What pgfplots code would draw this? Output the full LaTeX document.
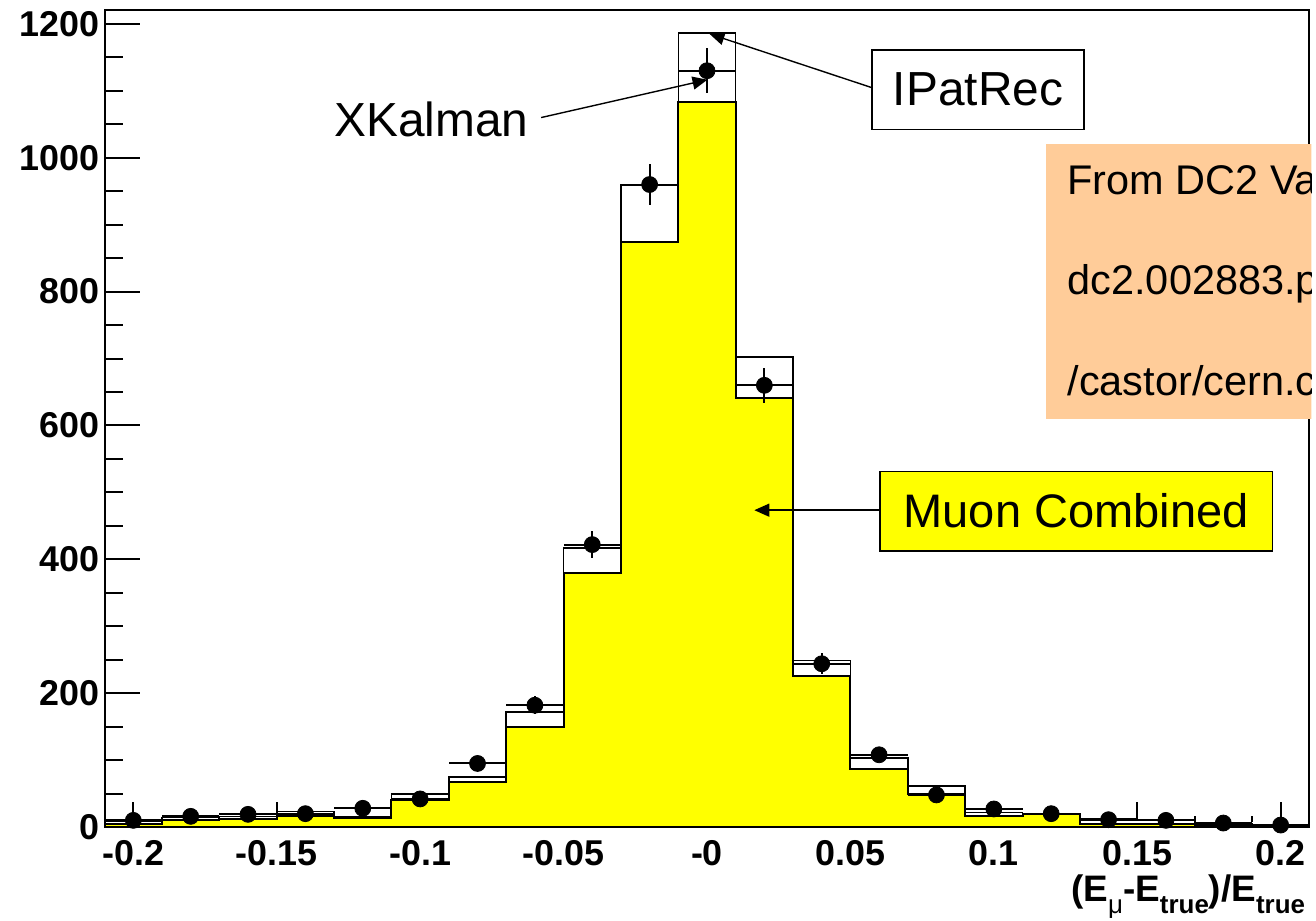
\documentclass[border=0pt]{standalone}
\usepackage{pgfplots}
\usepackage{pgfplotstable}
\pgfplotsset{compat=1.18}
\usepackage{fontspec}
\setmainfont{Liberation Sans}
\usetikzlibrary{arrows.meta}

\definecolor{peach}{RGB}{255,204,153}
\definecolor{histyellow}{RGB}{255,255,0}

% Histogram contents, one row per bin low edge (last row closes the step line)
\pgfplotstableread{
lo     muon  ipat
-0.21  4     9
-0.19  10    14
-0.17  12    16
-0.15  16    23
-0.13  13    15
-0.11  40    49
-0.09  67    75
-0.07  149   172
-0.05  380   417
-0.03  874   959
-0.01  1084  1186
0.01   641   702
0.03   226   249
0.05   87    103
0.07   50    61
0.09   17    22
0.11   19    20
0.13   5     12
0.15   5     11
0.17   2     5
0.19   1     2
0.21   1     2
}\histo

% XKalman points at bin centres with their errors
\pgfplotstableread{
x      xk    ep    em
-0.20  10    28    10
-0.18  16    4     4
-0.16  19    4.4   4.4
-0.14  20    4.5   4.5
-0.12  28    5.3   5.3
-0.10  42    6.5   6.5
-0.08  95    9.7   9.7
-0.06  182   13.5  13.5
-0.04  422   20.5  20.5
-0.02  960   31    31
0.00   1130  33.6  33.6
0.02   660   25.7  25.7
0.04   244   15.6  15.6
0.06   108   10.4  10.4
0.08   48    6.9   6.9
0.10   27    5.2   5.2
0.12   20    4.5   4.5
0.14   11    3.3   3.3
0.16   10    3.2   3.2
0.18   6     2.4   2.4
0.20   3     34    3
}\xkal

\newcommand{\sub}[1]{\raisebox{-6pt}{\fontsize{13}{13}\selectfont #1}}

\begin{document}
\begin{tikzpicture}
% page frame in pixel-like units: origin of the axis box at (105,830)
\begin{scope}[x=0.5pt, y=-0.5pt, shift={(-52.5pt,415pt)}]
  \useasboundingbox (0,0) rectangle (1316,924);
\end{scope}

\begin{axis}[
  at={(0,0)}, anchor=south west,
  scale only axis, width=604.5pt, height=410pt,
  xmin=-0.21, xmax=0.21, ymin=0, ymax=1220.8,
  clip=false,
  axis line style={line width=1pt},
  xtick={-0.2,-0.15,-0.1,-0.05,0,0.05,0.1,0.15,0.2},
  xticklabels={-0.2,-0.15,-0.1,-0.05,-0,0.05,0.1,0.15,0.2},
  ytick={0,200,400,600,800,1000,1200},
  yticklabels={0,200,400,600,800,1000,1200},
  minor y tick num=3,
  tick align=inside,
  xtick pos=left, ytick pos=left,
  major tick length=17.5pt, minor tick length=9pt,
  tick style={black, line width=1pt},
  xtick style={draw=none},
  ticklabel style={font=\bfseries\fontsize{18}{18}\selectfont, inner sep=0pt},
  xticklabel style={anchor=north, yshift=-6.5pt},
  yticklabel style={anchor=east, xshift=-2.5pt},
  xlabel={(E\sub{\mdseries μ}-E\sub{true})/E\sub{true}},
  xlabel style={at={(axis description cs:0.9967,0)}, anchor=base east,
    yshift=-37.5pt, inner sep=0pt, font=\bfseries\fontsize{18.5}{19}\selectfont},
]
  % Muon Combined
  \addplot[const plot, fill=histyellow, draw=black, line width=1pt]
    table[x=lo, y=muon] {\histo} \closedcycle;
  % IPatRec
  \addplot[const plot, draw=black, line width=0.8pt]
    table[x=lo, y=ipat] {\histo};
  % XKalman
  \addplot[only marks, mark=*, mark size=4pt, black,
    error bars/.cd, x dir=both, x fixed=0.01, y dir=both, y explicit,
    error mark=none, error bar style={line width=1pt, black}]
    table[x=x, y=xk, y error plus=ep, y error minus=em] {\xkal};
  % stray error segments at bin edges
  \addplot[black, line width=1pt] coordinates {(-0.15,22) (-0.15,37)};
  \addplot[black, line width=1pt] coordinates {(0.15,10) (0.15,37)};
  \addplot[black, line width=1pt] coordinates {(0.17,3) (0.17,17)};
  \addplot[black, line width=1pt] coordinates {(0.19,7) (0.19,17)};
\end{axis}

\begin{scope}[x=0.5pt, y=-0.5pt, shift={(-52.5pt,415pt)}]
  % annotations
  \node[anchor=base west, inner sep=0pt, font=\fontsize{24}{24}\selectfont] at (335,137) {XKalman};
  \draw[line width=0.7pt, -{Triangle[length=7.5pt,width=6.5pt]}] (543,118) -- (710,80);

  \node[draw=black, line width=0.8pt, fill=white, minimum width=106.5pt, minimum height=40pt,
        inner sep=0pt, font=\fontsize{24}{24}\selectfont] at (981.5,90) {IPatRec};
  \draw[line width=0.7pt, -{Triangle[length=7.5pt,width=6.5pt]}] (875,88) -- (712,34);

  \node[draw=black, line width=0.8pt, fill=histyellow, minimum width=197pt, minimum height=40pt,
        inner sep=0pt, font=\fontsize{23.6}{24}\selectfont] at (1080,513) {Muon Combined};
  \draw[line width=0.7pt, -{Triangle[length=7.5pt,width=6.5pt]}] (883,512) -- (757,512);

  \begin{scope}
    \clip (1040,140) rectangle (1316,430);
    \fill[peach] (1050,145) rectangle (1340,421);
    \node[anchor=base west, inner sep=0pt, font=\fontsize{20.8}{21}\selectfont] at (1071,195) {From DC2 Validation sample};
    \node[anchor=base west, inner sep=0pt, font=\fontsize{20.8}{21}\selectfont] at (1071,296) {dc2.002883.pyt\_mu};
    \node[anchor=base west, inner sep=0pt, font=\fontsize{20.8}{21}\selectfont] at (1071,397) {/castor/cern.ch/atlas};
  \end{scope}
\end{scope}
\end{tikzpicture}
\end{document}
